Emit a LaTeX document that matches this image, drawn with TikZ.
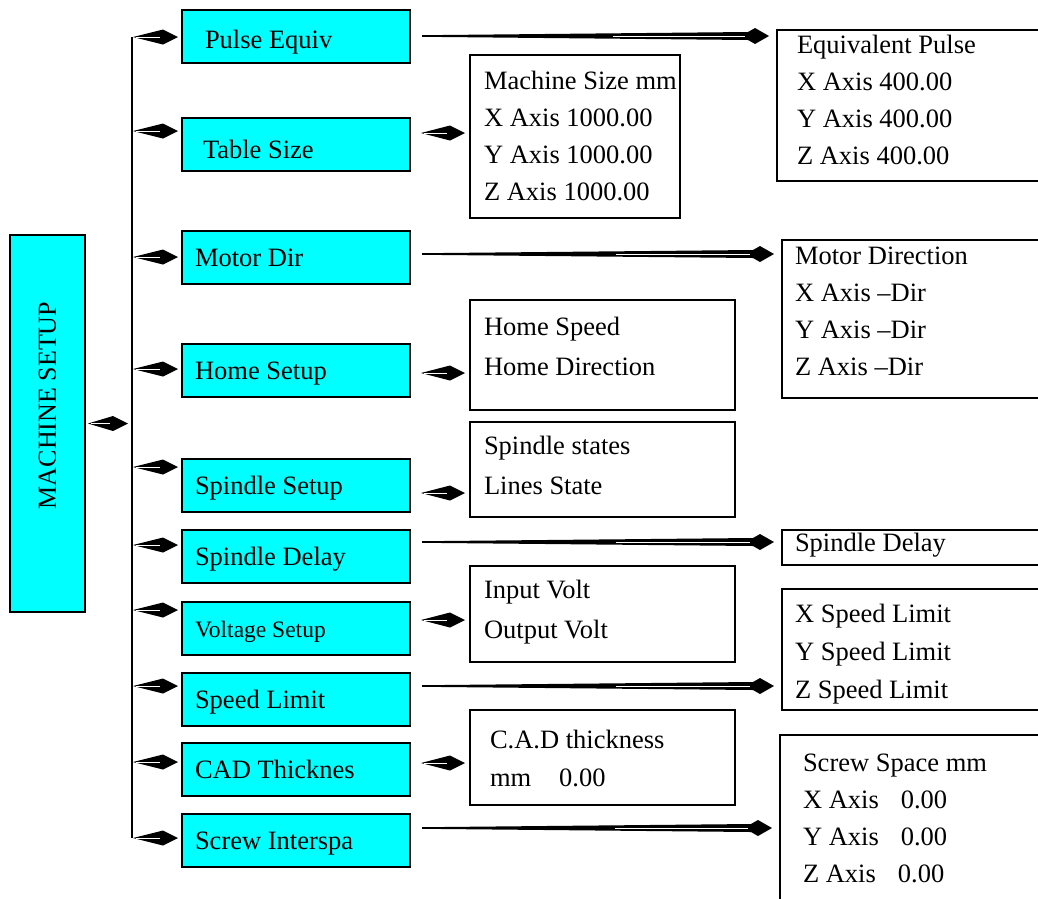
\documentclass[tikz,border=0pt]{standalone}
\usepackage{fontspec}
\setmainfont{Liberation Serif}
\usepackage{graphicx}
\usetikzlibrary{positioning, calc}
\definecolor{menucyan}{RGB}{0, 255, 255}

% invisible struts that fix the first line height and last line depth
\newcommand{\padtop}[1]{\rule{0pt}{#1}}
\newcommand{\padbot}[1]{\rule[-#1]{0pt}{0pt}}

% short kite-shaped pointer: start coordinate, target anchor, gap before target
\newcommand{\kitearrow}[3][4]{%
  \coordinate (ktip) at ($(#2 -| #3)+(-#1,0)$);
  \fill (#2) -- ($(ktip)+(-15,-7.5)$) -- (ktip) -- ($(ktip)+(-15,7.5)$) -- cycle;
  \draw[white, line width=0.7pt] ($(#2)+(3,0)$) -- ($(ktip)+(-18,0)$);
}
% long tapering pointer with a kite head
\newcommand{\longkite}[3][8]{%
  \coordinate (ltip) at ($(#2 -| #3)+(-#1,0)$);
  \fill ($(#2)+(0,-0.8)$) -- ($(ltip)+(-21,-4)$) -- ($(ltip)+(-14,-8)$) -- (ltip)
    -- ($(ltip)+(-14,8)$) -- ($(ltip)+(-21,4)$) -- ($(#2)+(0,0.8)$) -- cycle;
  \draw[white, line width=0.6pt] ($(#2)!0.55!(ltip)$) -- ($(ltip)+(-24,0)$);
}

\begin{document}
\begin{tikzpicture}[
    x=1pt, y=-1pt,
    rootbox/.style={draw, line width=2.5pt, fill=menucyan, outer sep=0pt, font=\fontsize{26}{30}\selectfont},
    menubox/.style={draw, line width=2.5pt, fill=menucyan, outer sep=0pt, minimum width=228pt, minimum height=53pt,
                    inner xsep=13pt, text width=202pt, align=flush left, text height=20pt, text depth=3pt,
                    font=\fontsize{26.5}{32}\selectfont},
    infobox/.style={draw, line width=2pt, outer sep=0pt, anchor=north west, align=flush left, inner xsep=13pt, inner ysep=4pt,
                    font=\fontsize{26.5}{37}\selectfont},
    trunk/.style={line width=2pt}
]
    \useasboundingbox (0,0) rectangle (1038,898);

    % Root
    \node[rootbox, minimum width=75pt, minimum height=377pt] (setup) at (47.5,423.5) {\rotatebox{90}{\hspace{36pt}MACHINE SETUP}};

    % Menu entries
    \node[menubox, anchor=north west, inner xsep=23pt, text width=182pt, text height=23.5pt, text depth=-0.5pt] (pulse) at (182,10) {Pulse Equiv};
    \node[menubox, below=55pt of pulse, inner xsep=21pt, text width=186pt, text height=27pt, text depth=-4pt] (table) {Table Size};
    \node[menubox, below=60pt of table] (motor) {Motor Dir};
    \node[menubox, below=60pt of motor] (home) {Home Setup};
    \node[menubox, below=62pt of home] (spindle) {Spindle Setup};
    \node[menubox, below=18pt of spindle] (sdelay) {Spindle Delay};
    \node[menubox, below=19pt of sdelay, font=\fontsize{23.5}{28}\selectfont] (voltage) {Voltage Setup};
    \node[menubox, below=18pt of voltage] (speed) {Speed Limit};
    \node[menubox, below=17pt of speed] (cad) {CAD Thicknes};
    \node[menubox, below=18pt of cad] (screw) {Screw Interspa};

    % Value boxes
    \node[infobox, inner xsep=20pt, text width=260pt, minimum height=151pt] (eqv) at (777,30)
        {\padtop{19pt}Equivalent Pulse\\X Axis 400.00\\Y Axis 400.00\\Z Axis 400.00\padbot{12pt}};
    \node[infobox, inner xsep=14pt, text width=182pt, minimum height=163pt] (mach) at (470,55)
        {\padtop{23pt}\mbox{Machine Size mm}\\X Axis 1000.00\\Y Axis 1000.00\\Z Axis 1000.00\padbot{6pt}};
    \node[infobox, text width=274pt, minimum height=158pt] (motd) at (782,240)
        {\padtop{19pt}Motor Direction\\X Axis –Dir\\Y Axis –Dir\\Z Axis –Dir\padbot{17pt}};
    \node[infobox, inner xsep=14pt, text width=237pt, minimum height=110pt, font=\fontsize{26.5}{40}\selectfont] (homesp) at (470,300)
        {\padtop{19pt}Home Speed\\Home Direction\padbot{18pt}};
    \node[infobox, inner xsep=14pt, text width=237pt, minimum height=95pt, font=\fontsize{26.5}{40}\selectfont] (spst) at (470,422)
        {\padtop{19pt}Spindle states\\Lines State\padbot{9pt}};
    \node[infobox, text width=274pt, minimum height=35pt, inner ysep=2pt, text height=16pt, text depth=8pt] (sdel) at (782,530)
        {Spindle Delay};
    \node[infobox, inner xsep=14pt, text width=237pt, minimum height=96pt, font=\fontsize{26.5}{40}\selectfont] (volt) at (470,566)
        {\padtop{19pt}Input Volt\\Output Volt\padbot{10pt}};
    \node[infobox, text width=274pt, minimum height=121pt, font=\fontsize{26.5}{38}\selectfont] (spdl) at (782,589)
        {\padtop{28pt}X Speed Limit\\Y Speed Limit\\Z Speed Limit\padbot{6pt}};
    \node[infobox, inner xsep=20pt, text width=225pt, minimum height=95pt, font=\fontsize{26.5}{38}\selectfont] (cadb) at (470,710)
        {\padtop{26pt}C.A.D thickness\\mm\hspace{28pt}0.00\padbot{6pt}};
    \node[infobox, inner xsep=23pt, text width=260pt, minimum height=168pt] (scrw) at (780,735)
        {\padtop{22pt}Screw Space mm\\X Axis\hspace{22pt}0.00\\Y Axis\hspace{22pt}0.00\\Z Axis\hspace{22pt}0.00\padbot{6pt}};

    % Trunk
    \coordinate (trunktop) at (132,37);
    \coordinate (trunkbot) at (132,838);
    \draw[trunk] (trunktop) -- (trunkbot);
    \coordinate (bsetup) at ($(setup.east)+(3,0)$);
    \kitearrow{bsetup}{trunktop}

    % Branches to the menu entries
    \foreach \yy/\nm in {37/pulse, 131/table, 257/motor, 369/home, 467/spindle, 545/sdelay, 610/voltage, 686/speed, 762/cad, 838/screw}{
        \coordinate (b\nm) at ($(trunktop |- 0,\yy)+(1,0)$);
        \kitearrow{b\nm}{\nm.west}
    }

    % Long pointers to the far boxes
    \foreach \yy/\src/\dst in {36/pulse/eqv, 254/motor/motd, 542/sdelay/sdel, 686/speed/spdl, 828/screw/scrw}{
        \coordinate (o\src) at ($(\src.east |- 0,\yy)+(12,0)$);
        \longkite{o\src}{\dst.west}
    }

    % Short pointers to the near boxes
    \foreach \yy/\src/\dst in {133/table/mach, 373/home/homesp, 493/spindle/spst, 620/voltage/volt, 763/cad/cadb}{
        \coordinate (o\src) at ($(\src.east |- 0,\yy)+(11,0)$);
        \kitearrow[5]{o\src}{\dst.west}
    }
\end{tikzpicture}
\end{document}
